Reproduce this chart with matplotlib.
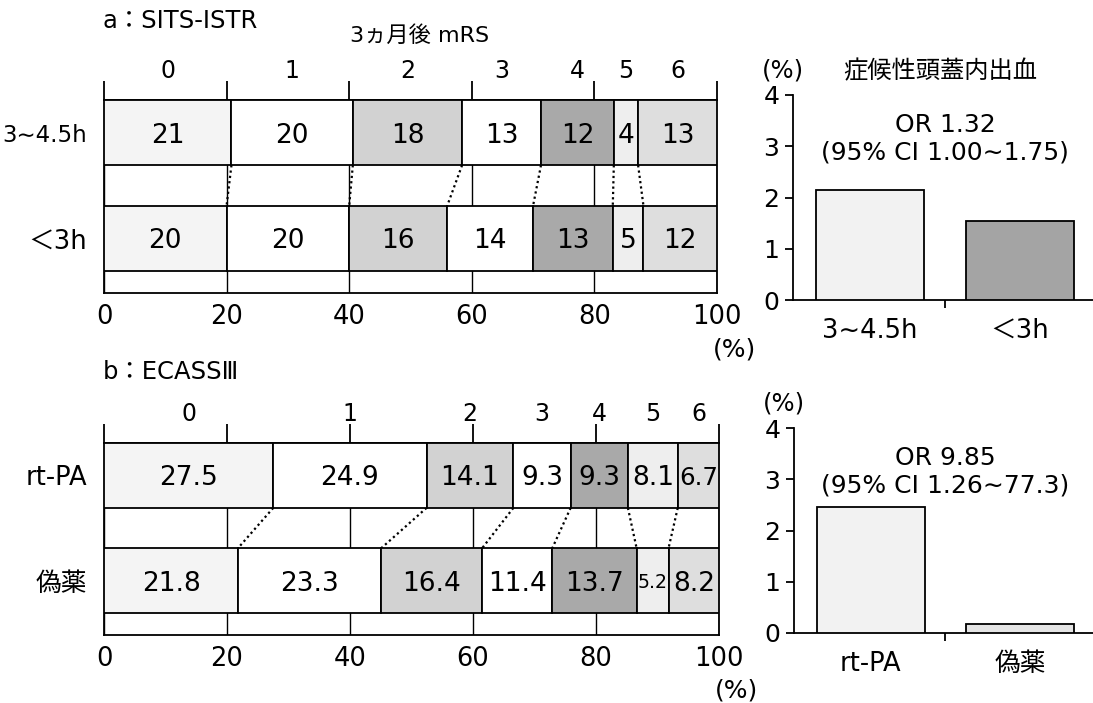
import matplotlib
matplotlib.use('Agg')
import matplotlib.pyplot as plt
import numpy as np

plt.rcParams['font.family'] = ['DejaVu Sans', 'Noto Sans CJK JP']

# ---- data -------------------------------------------------------------
mrs_grades = ['0', '1', '2', '3', '4', '5', '6']

sits_groups = ['3∼4.5h', '＜3h']
sits_late = [21, 20, 18, 13, 12, 4, 13]
sits_early = [20, 20, 16, 14, 13, 5, 12]

ecass_groups = ['rt-PA', '偽薬']
ecass_rtpa = [27.5, 24.9, 14.1, 9.3, 9.3, 8.1, 6.7]
ecass_placebo = [21.8, 23.3, 16.4, 11.4, 13.7, 5.2, 8.2]

sich_sits_groups = ['3∼4.5h', '＜3h']
sich_sits = [2.15, 1.55]
sich_ecass_groups = ['rt-PA', '偽薬']
sich_ecass = [2.45, 0.17]

sits_or = 'OR 1.32'
sits_ci = '(95% CI 1.00∼1.75)'
ecass_or = 'OR 9.85'
ecass_ci = '(95% CI 1.26∼77.3)'

pct_ticks = [0, 20, 40, 60, 80, 100]
sich_ticks = [0, 1, 2, 3, 4]

# ---- styling ----------------------------------------------------------
grade_fills = ['#f4f4f4', '#ffffff', '#d2d2d2', '#ffffff', '#a9a9a9', '#eeeeee', '#dedede']
LW = 1.3
W, H = 1093, 703

fig = plt.figure(figsize=(W / 100, H / 100), dpi=100)
renderer = fig.canvas.get_renderer()


def px_axes(x0, y0, x1, y1):
    """Axes placed by pixel box (left, top, right, bottom)."""
    return fig.add_axes([x0 / W, 1 - y1 / H, (x1 - x0) / W, (y1 - y0) / H])


def fit_label(ax, txt, seg_left, seg_width):
    """Shrink a segment label until it fits inside its segment."""
    x0 = ax.transData.transform((seg_left, 0))[0]
    x1 = ax.transData.transform((seg_left + seg_width, 0))[0]
    room = (x1 - x0) - 2
    width = txt.get_window_extent(renderer).width
    if width > room:
        txt.set_fontsize(txt.get_fontsize() * room / width)


def draw_mrs(ax, rows, groups):
    bar_h = 1.0
    centers = [0.5, 2.12]
    ax.set_xlim(0, 100)
    ax.set_ylim(2.96, 0)
    edges = []
    for row, yc in zip(rows, centers):
        vals = np.asarray(row, float)
        widths = vals / vals.sum() * 100
        lefts = np.concatenate([[0], np.cumsum(widths)[:-1]])
        edges.append(np.cumsum(widths)[:-1])
        ax.barh(yc, widths, left=lefts, height=bar_h, color=grade_fills,
                edgecolor='black', linewidth=LW, zorder=3)
        for v, l, w in zip(row, lefts, widths):
            t = ax.text(l + w / 2, yc, f'{v:g}', ha='center', va='center_baseline',
                        fontsize=19, zorder=4)
            fit_label(ax, t, l, w)
    # dotted guides joining the grade boundaries of the two rows
    for xa, xb in zip(edges[0], edges[1]):
        ax.plot([xa, xb], [centers[0] + bar_h / 2, centers[1] - bar_h / 2],
                color='black', lw=1.6, ls=(0, (1, 1.4)), zorder=2)
    # grade labels above the first row
    first = np.asarray(rows[0], float)
    w0 = first / first.sum() * 100
    mids = np.cumsum(w0) - w0 / 2
    for g, m in zip(mrs_grades, mids):
        ax.text(m, -0.44, g, ha='center', va='center', fontsize=17)

    ax.set_xticks(pct_ticks)
    ax.grid(axis='x', color='black', lw=1.0, zorder=1)
    ax.tick_params(axis='x', length=0, pad=8, labelsize=18.5)
    ax.set_yticks(centers, groups)
    ax.tick_params(axis='y', length=0, pad=12, labelsize=18.5)
    # the time-window label is long; set it a little smaller so it fits the margin
    for lbl in ax.get_yticklabels():
        if '∼' in lbl.get_text():
            lbl.set_fontsize(16.5)
    for s in ax.spines.values():
        s.set_linewidth(LW)
    top = ax.secondary_xaxis('top')
    top.set_xticks(pct_ticks, labels=[''] * len(pct_ticks))
    top.tick_params(axis='x', length=13.7, width=LW, direction='out')
    top.spines['top'].set_linewidth(LW)
    ax.text(102.8, 3.82, '(%)', ha='center', va='center', fontsize=18)


def draw_sich(ax, vals, groups, fills, or_txt, ci_txt):
    x = np.arange(len(vals))
    ax.bar(x, vals, width=0.72, color=fills, edgecolor='black',
           linewidth=LW, zorder=3)
    ax.set_xlim(-0.513, 1.487)
    ax.set_ylim(0, 4)
    ax.spines[['top', 'right']].set_visible(False)
    ax.spines['left'].set_linewidth(LW)
    ax.spines['bottom'].set_linewidth(LW)
    ax.set_yticks(sich_ticks)
    ax.tick_params(axis='y', length=5.8, width=LW, pad=4, labelsize=18)
    ax.set_xticks(x, groups)
    ax.tick_params(axis='x', which='major', length=0, pad=13, labelsize=18.5)
    ax.set_xticks([0.5], minor=True)
    ax.tick_params(axis='x', which='minor', length=6, width=LW)
    ax.text(-0.58, 4.48, '(%)', ha='center', va='center', fontsize=17.5, clip_on=False)
    ax.text(0.5, 3.42, or_txt, ha='center', va='center', fontsize=18)
    ax.text(0.5, 2.87, ci_txt, ha='center', va='center', fontsize=18)


ax_a = px_axes(104, 100, 717, 293)
draw_mrs(ax_a, [sits_late, sits_early], sits_groups)

ax_b = px_axes(104, 443, 719, 635)
draw_mrs(ax_b, [ecass_rtpa, ecass_placebo], ecass_groups)

ax_c = px_axes(793, 95, 1093, 300)
draw_sich(ax_c, sich_sits, sich_sits_groups, ['#f2f2f2', '#a4a4a4'], sits_or, sits_ci)
ax_c.text(0.467, 4.46, '症候性頭蓋内出血', ha='center', va='center', fontsize=17.5)

ax_d = px_axes(794, 428, 1093, 633)
draw_sich(ax_d, sich_ecass, sich_ecass_groups, ['#f2f2f2', '#e4e4e4'], ecass_or, ecass_ci)

fig.text(103 / W, 1 - 21 / H, 'a：SITS-ISTR', ha='left', va='center', fontsize=17.5)
fig.text(420 / W, 1 - 36 / H, '3ヵ月後 mRS', ha='center', va='center', fontsize=16)
fig.text(103 / W, 1 - 372 / H, 'b：ECASSⅢ', ha='left', va='center', fontsize=17.5)

fig.savefig('out.png', dpi=100)
